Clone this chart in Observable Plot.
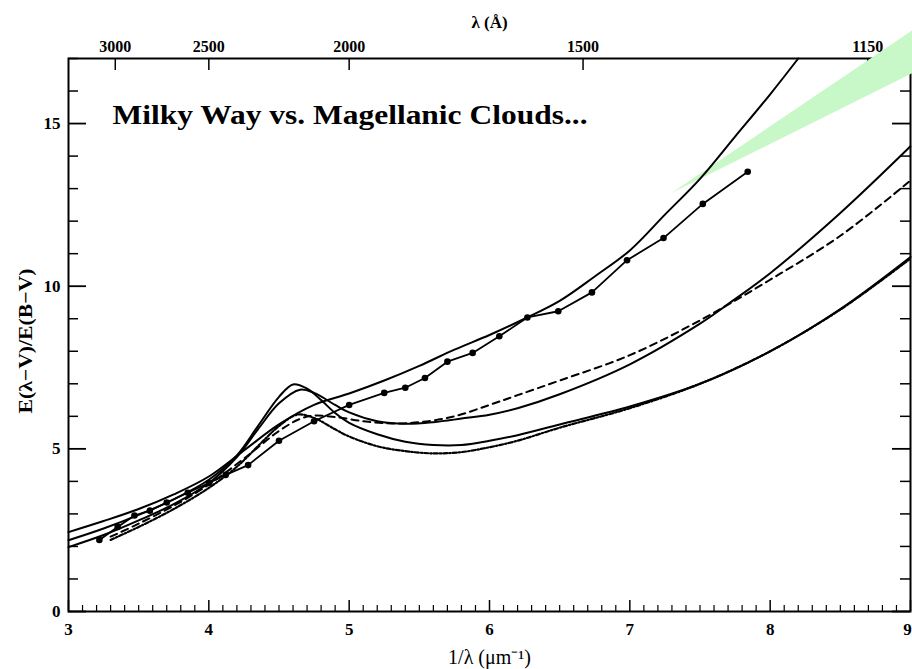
<!DOCTYPE html>
<html><head><meta charset="utf-8">
<script src="https://cdn.jsdelivr.net/npm/d3@7"></script>
<script src="https://cdn.jsdelivr.net/npm/@observablehq/plot@0.6"></script>
<style>body{margin:0;background:#fff} svg{display:block;background:#fff}</style>
</head><body><div id="chart"></div>
<script>
// ---- data ----
const titleText = "Milky Way vs. Magellanic Clouds...";
const yLabelText = "E(λ−V)/E(B−V)";
const xMajor = [3, 4, 5, 6, 7, 8, 9];
const yMajor = [0, 5, 10, 15];
const waveTicks = [3000, 2500, 2000, 1500, 1150];

// steep solid curve (exits top)
const s1X = [3.0, 3.25, 3.5, 3.75, 4.0, 4.25, 4.5, 4.75, 5.0, 5.25, 5.5, 5.75, 6.0, 6.25, 6.5, 6.75, 7.0, 7.25, 7.5, 7.75, 8.0, 8.2];
const s1Y = [2.44, 2.78, 3.15, 3.6, 4.15, 4.95, 5.75, 6.35, 6.7, 7.1, 7.55, 8.05, 8.5, 9.0, 9.55, 10.3, 11.1, 12.2, 13.3, 14.6, 15.9, 17.0];

// solid curve with bump, ending at 14.3
const s2X = [3.0, 3.25, 3.5, 3.75, 4.0, 4.2, 4.35, 4.5, 4.65, 4.75, 4.9, 5.0, 5.2, 5.4, 5.6, 5.8, 6.0, 6.2, 6.5, 7.0, 7.5, 7.7, 8.0, 8.5, 9.0];
const s2Y = [1.98, 2.35, 2.8, 3.3, 3.95, 4.75, 5.6, 6.4, 6.82, 6.72, 6.35, 6.12, 5.85, 5.77, 5.82, 5.93, 6.05, 6.25, 6.68, 7.6, 8.85, 9.45, 10.4, 12.25, 14.3];

// solid curve with bump, ending at 10.9
const s3X = [3.0, 3.25, 3.5, 3.75, 4.0, 4.2, 4.35, 4.5, 4.6, 4.7, 4.8, 4.9, 5.0, 5.2, 5.4, 5.6, 5.8, 6.0, 6.2, 6.5, 7.0, 7.5, 8.0, 8.5, 9.0];
const s3Y = [2.19, 2.55, 2.97, 3.45, 4.05, 4.8, 5.7, 6.6, 6.98, 6.85, 6.5, 6.1, 5.8, 5.45, 5.22, 5.12, 5.12, 5.25, 5.42, 5.75, 6.3, 7.0, 8.0, 9.3, 10.9];

// dashed curve
const dX = [3.3, 3.5, 3.75, 4.0, 4.25, 4.5, 4.65, 4.75, 4.9, 5.1, 5.3, 5.5, 5.75, 6.0, 6.2, 6.5, 7.0, 7.5, 8.0, 8.5, 9.0];
const dY = [2.3, 2.7, 3.25, 3.9, 4.7, 5.55, 5.92, 6.02, 5.98, 5.85, 5.78, 5.82, 6.0, 6.35, 6.65, 7.1, 7.88, 8.95, 10.2, 11.55, 13.25];

// dash-dot curve
const ddX = [3.3, 3.5, 3.75, 4.0, 4.2, 4.4, 4.5, 4.63, 4.75, 4.9, 5.0, 5.2, 5.4, 5.6, 5.8, 6.0, 6.2, 6.5, 7.0, 7.5, 8.0, 8.5, 9.0];
const ddY = [2.2, 2.6, 3.15, 3.8, 4.45, 5.3, 5.7, 6.05, 5.95, 5.6, 5.38, 5.08, 4.93, 4.86, 4.9, 5.05, 5.25, 5.65, 6.25, 7.0, 8.0, 9.28, 10.85];

// line with dots
const mX = [3.22, 3.35, 3.47, 3.58, 3.7, 3.85, 4.0, 4.12, 4.28, 4.5, 4.75, 5.0, 5.25, 5.4, 5.54, 5.7, 5.88, 6.07, 6.27, 6.49, 6.73, 6.98, 7.24, 7.52, 7.84];
const mY = [2.2, 2.6, 2.95, 3.1, 3.35, 3.65, 3.95, 4.2, 4.5, 5.25, 5.85, 6.35, 6.72, 6.88, 7.18, 7.68, 7.95, 8.46, 9.04, 9.23, 9.81, 10.8, 11.48, 12.53, 13.52];

// green wedge
const wedgeX = [7.30, 9.02];
const wedgeLow = [12.85, 16.54];
const wedgeHigh = [12.85, 17.86];

// ---- build ----
const X0 = 3, X1 = 9, Y0 = 0, Y1 = 17;
const pxX = 842 / (X1 - X0), pxY = 553 / (Y1 - Y0); // pixels per unit, for tick lengths
const rows = (xs, ys) => xs.map((x, i) => ({x, y: ys[i]}));
const wedge = wedgeX.map((x, i) => ({x, y1: wedgeLow[i], y2: wedgeHigh[i]}));
const xMinor = d3.range(3, 9.0001, 0.1).map(v => +v.toFixed(2)).filter(v => Math.abs(v - Math.round(v)) > 1e-6);
const yMinor = d3.range(0, 17.0001, 1).filter(v => v % 5 !== 0);
const waveX = waveTicks.map(w => 1e4 / w);
const serif = "Liberation Serif, Times New Roman, serif";
const lab = {fontFamily: serif, fontWeight: "bold", fontSize: 17, fill: "black", lineAnchor: "middle"};

const vTick = (vals, a, b, w) => Plot.ruleX(vals, {x: d => d, y1: () => a, y2: () => b, stroke: "black", strokeWidth: w});
const hTick = (vals, a, b, w) => Plot.ruleY(vals, {y: d => d, x1: () => a, x2: () => b, stroke: "black", strokeWidth: w});

const plot = Plot.plot({
  width: 912, height: 669,
  marginLeft: 68, marginRight: 2, marginTop: 58, marginBottom: 58,
  x: {domain: [X0, X1], axis: null},
  y: {domain: [Y0, Y1], axis: null},
  style: {background: "white", color: "black"},
  marks: [
    // ticks (inward)
    vTick(xMajor, Y0, Y0 + 11 / pxY, 1.5),
    vTick(xMinor, Y0, Y0 + 6 / pxY, 1.2),
    vTick(waveX, Y1, Y1 - 12 / pxY, 1.5),
    hTick(yMajor, X0, X0 + 18 / pxX, 1.8),
    hTick(yMinor, X0, X0 + 10 / pxX, 1.5),
    hTick(yMajor, X1, X1 - 18 / pxX, 1.8),
    hTick(yMinor, X1, X1 - 10 / pxX, 1.5),
    Plot.frame({stroke: "black", strokeWidth: 2}),
    // tick labels
    Plot.text(xMajor.filter(d => d !== X1), {x: d => d, frameAnchor: "bottom", dy: 18, textAnchor: "middle", text: d => String(d), ...lab}),
    Plot.text(xMajor.filter(d => d === X1), {x: d => d, frameAnchor: "bottom", dy: 18, dx: -3, textAnchor: "middle", text: d => String(d), ...lab}),
    Plot.text(yMajor, {y: d => d, frameAnchor: "left", dx: -8, textAnchor: "end", text: d => String(d), ...lab}),
    Plot.text(waveTicks, {x: d => 1e4 / d, frameAnchor: "top", dy: -12, textAnchor: "middle", text: d => String(d), ...lab, fontSize: 16}),
    // axis titles
    Plot.text(["λ (Å)"], {frameAnchor: "top", dy: -36, textAnchor: "middle", text: d => d, ...lab, fontSize: 17}),
    Plot.text(["1/λ (μm⁻¹)"], {frameAnchor: "bottom", dy: 46, textAnchor: "middle", text: d => d, fontFamily: serif, fontSize: 20, fill: "black", lineAnchor: "middle"}),
    Plot.text([yLabelText], {frameAnchor: "left", dx: -43, dy: 6, rotate: -90, textAnchor: "middle", text: d => d, ...lab, fontSize: 19}),
    // title
    Plot.text([titleText], {frameAnchor: "top-left", dx: 44, dy: 57, textAnchor: "start", text: d => d, ...lab, fontSize: 27}),
    // green wedge
    Plot.areaY(wedge, {x: "x", y1: "y1", y2: "y2", fill: "#c8f7c8"}),
    // curves
    Plot.line(rows(s1X, s1Y), {x: "x", y: "y", stroke: "black", strokeWidth: 2, curve: "catmull-rom"}),
    Plot.line(rows(s2X, s2Y), {x: "x", y: "y", stroke: "black", strokeWidth: 2, curve: "catmull-rom"}),
    Plot.line(rows(s3X, s3Y), {x: "x", y: "y", stroke: "black", strokeWidth: 2, curve: "catmull-rom"}),
    Plot.line(rows(dX, dY), {x: "x", y: "y", stroke: "black", strokeWidth: 2, strokeDasharray: "7,5", curve: "catmull-rom"}),
    Plot.line(rows(ddX, ddY), {x: "x", y: "y", stroke: "black", strokeWidth: 2.2, strokeDasharray: "4,2,1.5,2", curve: "catmull-rom"}),
    Plot.line(rows(mX, mY), {x: "x", y: "y", stroke: "black", strokeWidth: 1.8}),
    Plot.dot(rows(mX, mY), {x: "x", y: "y", r: 3.3, fill: "black"})
  ]
});
document.getElementById("chart").appendChild(plot);
for (const t of plot.querySelectorAll("text")) {
  if (t.textContent === titleText) { t.setAttribute("textLength", 475); t.setAttribute("lengthAdjust", "spacingAndGlyphs"); }
  if (t.textContent === yLabelText) { t.setAttribute("textLength", 145); t.setAttribute("lengthAdjust", "spacingAndGlyphs"); }
}
</script>
</body></html>
